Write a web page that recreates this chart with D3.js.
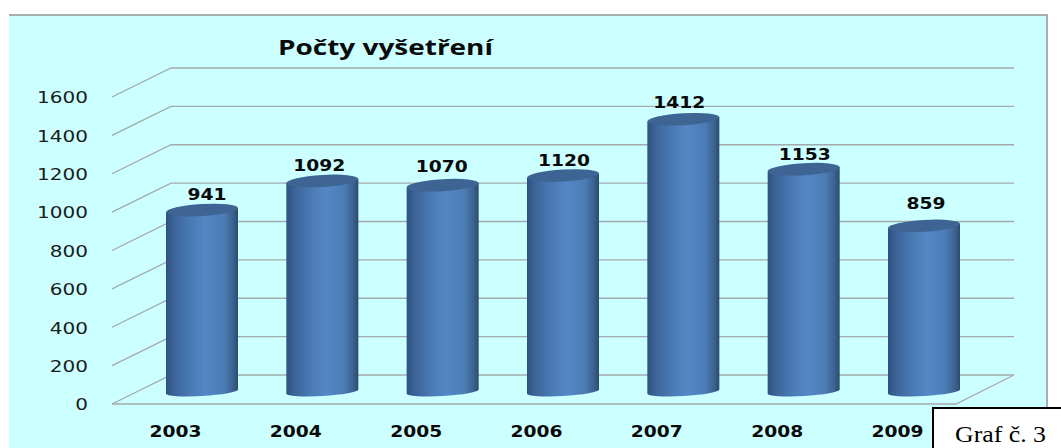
<!DOCTYPE html>
<html>
<head>
<meta charset="utf-8">
<script src="https://cdn.jsdelivr.net/npm/d3@7"></script>
<style>
  html, body { margin: 0; padding: 0; background: #fff; }
  svg { display: block; }
</style>
</head>
<body>
<div id="chart-area"></div>
<script>
// Data
var years = ["2003", "2004", "2005", "2006", "2007", "2008", "2009"];
var counts = [941, 1092, 1070, 1120, 1412, 1153, 859];
var yTicks = [0, 200, 400, 600, 800, 1000, 1200, 1400, 1600];

var width = 1061;
var height = 448;

var svg = d3.select("#chart-area").append("svg").attr("width", width).attr("height", height);

// Scales
var x = d3.scalePoint().domain(years).range([202, 924]);
var yWall = d3.scaleLinear().domain([0, 1600]).range([404, 97]);   // front edge of the floor
var yBar = d3.scaleLinear().domain([0, 1600]).range([391.5, 83]);  // plane the cylinders stand in

// 3d offsets of the back wall
var depthX = 59, depthY = -29;
var plotLeft = 112, plotRight = 956;

// Cylinder look
var rx = 36, ry = 6, ryBottom = 4.5, tilt = -3.4;
var lean = rx * Math.sin(-tilt * Math.PI / 180);

var defs = svg.append("defs");
var grad = defs.append("linearGradient").attr("id", "cyl");
[[0, "#2f517f"], [0.12, "#3c659a"], [0.35, "#4a7bb4"], [0.55, "#5587c6"], [0.8, "#4b7cb6"], [0.93, "#3c628f"], [1, "#2c4a70"]]
  .forEach((s) => { grad.append("stop").attr("offset", s[0]).attr("stop-color", s[1]); });

// Panel
svg.append("rect").attr("x", 9).attr("y", 15).attr("width", 1038).attr("height", 433).attr("fill", "#ccffff");
svg.append("path").attr("d", "M9,15H1047V448").attr("fill", "none").attr("stroke", "#a6aeae").attr("stroke-width", 2);

// Grid
var grid = svg.append("g").attr("fill", "none").attr("stroke", "#a2abab").attr("stroke-width", 1.3);
grid.selectAll("path").data(yTicks).enter().append("path")
  .attr("d", (d) => "M" + plotLeft + "," + yWall(d) + "L" + (plotLeft + depthX) + "," + (yWall(d) + depthY) + "H" + (plotRight + depthX - 1));
grid.append("path")
  .attr("d", "M" + plotLeft + "," + yWall(0) + "H" + plotRight + "L" + (plotRight + depthX - 1) + "," + (yWall(0) + depthY));

// Title
svg.append("text").attr("x", 278).attr("y", 55).attr("font-family", "'Open Sans'").attr("font-weight", 700)
  .attr("font-size", 21).attr("fill", "#0a0a0a").attr("textLength", 215).attr("lengthAdjust", "spacingAndGlyphs")
  .text("Počty vyšetření");

// Axis
var yAxisCall = d3.axisLeft(yWall).tickValues(yTicks).tickFormat(d3.format("d")).tickSize(0).tickPadding(0);
var yAxisGroup = svg.append("g").attr("class", "y axis").attr("transform", "translate(88, 1)").call(yAxisCall);
yAxisGroup.select(".domain").remove();
yAxisGroup.selectAll("text").attr("font-family", "'DejaVu Sans'").attr("font-size", 15).attr("fill", "#1c1c1c")
  .attr("textLength", (d) => String(d).length * 12.75).attr("lengthAdjust", "spacingAndGlyphs");

var xAxisCall = d3.axisBottom(x).tickSize(0).tickPadding(0);
var xAxisGroup = svg.append("g").attr("class", "x axis").attr("transform", "translate(-27, 426)").call(xAxisCall);
xAxisGroup.select(".domain").remove();
xAxisGroup.selectAll("text").attr("font-family", "'DejaVu Sans'").attr("font-weight", 700).attr("font-size", 15).attr("fill", "#0a0a0a")
  .attr("textLength", 52).attr("lengthAdjust", "spacingAndGlyphs");

// Cylinders
var bars = svg.append("g").selectAll("g").data(counts).enter().append("g")
  .attr("transform", (d, i) => "translate(" + x(years[i]) + ",0)");

bars.append("path").attr("fill", "url(#cyl)")
  .attr("d", (d) => "M" + (-rx) + "," + (yBar(0) + lean)
    + "A" + rx + "," + ryBottom + " " + tilt + " 0 0 " + rx + "," + (yBar(0) - lean)
    + "L" + rx + "," + (yBar(d) - lean) + "L" + (-rx) + "," + (yBar(d) + lean) + "Z");

bars.append("ellipse").attr("rx", rx).attr("ry", ry).attr("fill", "#3d6492")
  .attr("transform", (d) => "translate(0," + yBar(d) + ") rotate(" + tilt + ")");

// Value labels, nudged by hand like in the original
var labelDx = [5, -3, -1, 1, -4, 1, 2];
var labelDy = [-15, -14, -18, -14, -16, -14, -21];

bars.append("text").attr("text-anchor", "middle").attr("font-family", "'DejaVu Sans'").attr("font-weight", 700)
  .attr("font-size", 15).attr("fill", "#0a0a0a").attr("dominant-baseline", "middle")
  .attr("x", (d, i) => labelDx[i]).attr("y", (d, i) => yBar(d) + labelDy[i])
  .attr("textLength", (d) => String(d).length * 13).attr("lengthAdjust", "spacingAndGlyphs")
  .text((d) => d);

// Caption box
svg.append("rect").attr("x", 933).attr("y", 408).attr("width", 140).attr("height", 60)
  .attr("fill", "#fff").attr("stroke", "#000").attr("stroke-width", 2);
svg.append("text").attr("x", 955).attr("y", 442).attr("font-family", "'Liberation Serif'").attr("font-size", 24)
  .attr("fill", "#000").attr("textLength", 91).attr("lengthAdjust", "spacingAndGlyphs").text("Graf č. 3");
</script>
</body>
</html>
